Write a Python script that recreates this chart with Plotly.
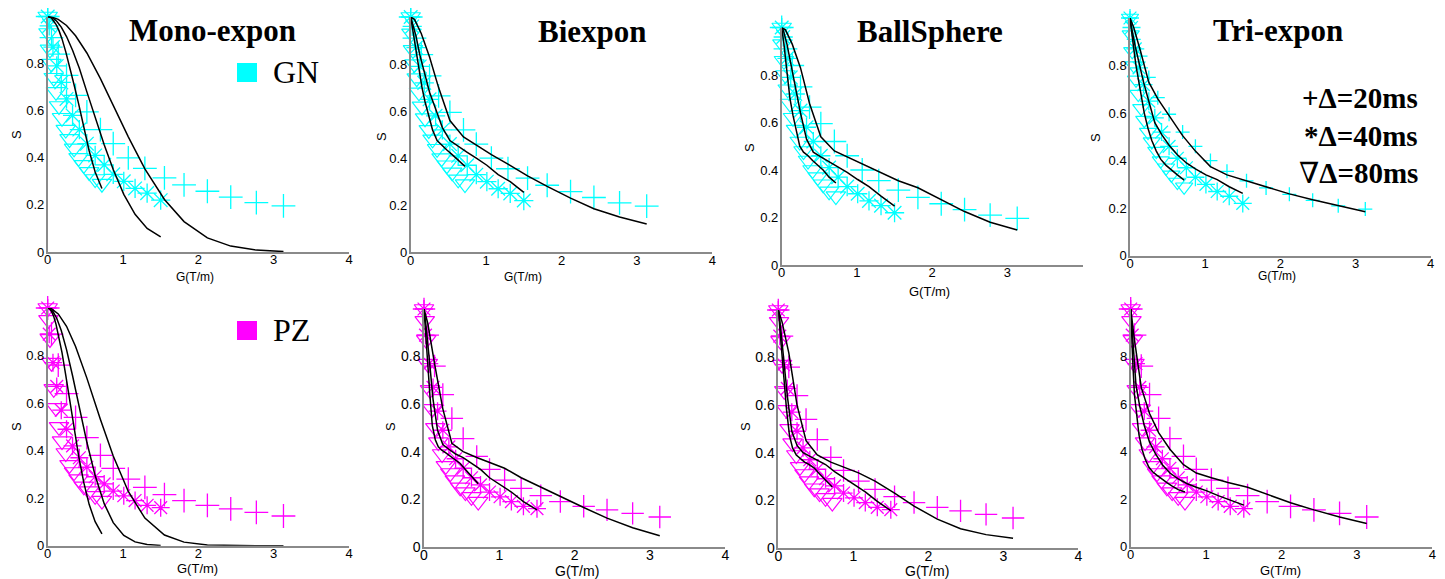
import plotly.graph_objects as go

# page body has an 8px margin, so the figure is drawn 8px in from the corner
OFF = 8
W, H = 1445 - OFF, 579 - OFF

# ---------------- data ----------------
G_20 = [0, 0.05, 0.14, 0.25, 0.37, 0.52, 0.70, 0.87, 1.07, 1.29, 1.55, 1.81, 2.12, 2.43, 2.77, 3.13]
G_40 = [0, 0.02, 0.07, 0.12, 0.18, 0.25, 0.33, 0.42, 0.52, 0.63, 0.75, 0.87, 1.01, 1.16, 1.32, 1.50]
G_80 = [0, 0.01, 0.03, 0.05, 0.08, 0.11, 0.15, 0.19, 0.24, 0.29, 0.35, 0.41, 0.48, 0.55, 0.63, 0.72]

GN_S20 = [1.0, 0.91, 0.84, 0.75, 0.665, 0.595, 0.52, 0.46, 0.40, 0.355, 0.315, 0.285, 0.258, 0.233, 0.21, 0.196]
GN_S40 = [1.0, 0.96, 0.87, 0.79, 0.72, 0.65, 0.58, 0.52, 0.46, 0.41, 0.37, 0.33, 0.30, 0.27, 0.25, 0.22]
GN_S80 = [1.0, 0.93, 0.86, 0.80, 0.74, 0.68, 0.62, 0.57, 0.52, 0.48, 0.44, 0.40, 0.37, 0.34, 0.31, 0.29]

PZ_S20 = [1.0, 0.89, 0.76, 0.64, 0.54, 0.455, 0.38, 0.325, 0.28, 0.245, 0.215, 0.19, 0.17, 0.155, 0.14, 0.125]
PZ_S40 = [1.0, 0.89, 0.77, 0.67, 0.57, 0.49, 0.42, 0.37, 0.33, 0.29, 0.26, 0.23, 0.21, 0.19, 0.17, 0.16]
PZ_S80 = [1.0, 0.95, 0.87, 0.77, 0.66, 0.58, 0.50, 0.44, 0.39, 0.34, 0.31, 0.28, 0.25, 0.23, 0.21, 0.19]

# model fits (evaluated at the same G values)
MONO_GN_F20 = [1.0, 0.998, 0.988, 0.962, 0.918, 0.845, 0.736, 0.623, 0.489, 0.353, 0.223, 0.129, 0.060, 0.025, 0.008, 0.002]
MONO_GN_F40 = [1.0, 0.999, 0.993, 0.98, 0.955, 0.915, 0.857, 0.78, 0.68, 0.57, 0.455, 0.35, 0.245, 0.16, 0.10, 0.064]
MONO_GN_F80 = [1.0, 1.0, 0.997, 0.993, 0.982, 0.967, 0.94, 0.905, 0.85, 0.79, 0.71, 0.63, 0.53, 0.43, 0.34, 0.27]

BI_GN_F20 = [1.0, 0.99, 0.93, 0.83, 0.70, 0.56, 0.49, 0.455, 0.415, 0.375, 0.325, 0.28, 0.23, 0.185, 0.15, 0.12]
BI_GN_F40 = [1.0, 0.98, 0.92, 0.84, 0.76, 0.68, 0.61, 0.53, 0.475, 0.45, 0.425, 0.40, 0.37, 0.33, 0.30, 0.255]
BI_GN_F80 = [1.0, 0.98, 0.94, 0.89, 0.83, 0.77, 0.70, 0.64, 0.58, 0.52, 0.475, 0.455, 0.435, 0.415, 0.39, 0.365]

BS_GN_F20 = [1.0, 0.99, 0.93, 0.83, 0.68, 0.54, 0.48, 0.455, 0.425, 0.39, 0.355, 0.325, 0.275, 0.225, 0.18, 0.147]
BS_GN_F40 = [1.0, 0.99, 0.93, 0.85, 0.74, 0.64, 0.53, 0.475, 0.455, 0.435, 0.41, 0.39, 0.36, 0.33, 0.29, 0.248]
BS_GN_F80 = [1.0, 0.98, 0.93, 0.87, 0.78, 0.70, 0.63, 0.565, 0.50, 0.475, 0.46, 0.44, 0.42, 0.40, 0.37, 0.345]

TRI_GN_F20 = [1.0, 0.96, 0.86, 0.73, 0.66, 0.59, 0.505, 0.44, 0.375, 0.34, 0.315, 0.29, 0.26, 0.235, 0.21, 0.185]
TRI_GN_F40 = [1.0, 0.96, 0.88, 0.81, 0.73, 0.65, 0.56, 0.51, 0.465, 0.425, 0.39, 0.365, 0.34, 0.32, 0.29, 0.262]
TRI_GN_F80 = [1.0, 0.97, 0.92, 0.87, 0.80, 0.74, 0.67, 0.60, 0.535, 0.485, 0.44, 0.405, 0.38, 0.36, 0.34, 0.318]

MONO_PZ_F20 = [1.0, 0.997, 0.975, 0.923, 0.838, 0.705, 0.531, 0.377, 0.228, 0.116, 0.045, 0.015, 0.003, 0.0005, 0.0, 0.0]
MONO_PZ_F40 = [1.0, 0.999, 0.985, 0.957, 0.905, 0.825, 0.715, 0.58, 0.435, 0.295, 0.177, 0.097, 0.043, 0.016, 0.005, 0.001]
MONO_PZ_F80 = [1.0, 0.999, 0.995, 0.986, 0.964, 0.932, 0.878, 0.812, 0.717, 0.615, 0.493, 0.379, 0.264, 0.174, 0.101, 0.050]

BI_PZ_F20 = [1.0, 0.94, 0.77, 0.58, 0.435, 0.40, 0.375, 0.355, 0.33, 0.29, 0.25, 0.21, 0.165, 0.12, 0.08, 0.046]
BI_PZ_F40 = [1.0, 0.95, 0.79, 0.62, 0.49, 0.43, 0.41, 0.39, 0.375, 0.35, 0.325, 0.29, 0.26, 0.23, 0.19, 0.155]
BI_PZ_F80 = [1.0, 0.95, 0.87, 0.77, 0.63, 0.51, 0.45, 0.42, 0.405, 0.395, 0.38, 0.365, 0.35, 0.325, 0.295, 0.265]

BS_PZ_F20 = [1.0, 0.95, 0.82, 0.60, 0.45, 0.39, 0.36, 0.34, 0.315, 0.28, 0.23, 0.175, 0.12, 0.08, 0.055, 0.04]
BS_PZ_F40 = [1.0, 0.96, 0.80, 0.64, 0.49, 0.43, 0.40, 0.385, 0.37, 0.35, 0.32, 0.295, 0.265, 0.235, 0.195, 0.156]
BS_PZ_F80 = [1.0, 0.96, 0.89, 0.81, 0.70, 0.58, 0.47, 0.42, 0.39, 0.375, 0.36, 0.35, 0.335, 0.31, 0.285, 0.255]

TRI_PZ_F20 = [1.0, 0.87, 0.67, 0.56, 0.48, 0.41, 0.345, 0.31, 0.29, 0.27, 0.25, 0.22, 0.185, 0.155, 0.125, 0.098]
TRI_PZ_F40 = [1.0, 0.90, 0.68, 0.59, 0.51, 0.44, 0.39, 0.345, 0.31, 0.285, 0.265, 0.25, 0.235, 0.215, 0.195, 0.175]
TRI_PZ_F80 = [1.0, 0.90, 0.76, 0.64, 0.54, 0.47, 0.41, 0.37, 0.335, 0.315, 0.30, 0.285, 0.27, 0.255, 0.24, 0.23]

MODEL_TITLES = ["Mono-expon", "Biexpon", "BallSphere", "Tri-expon"]
ROW_LABELS = ["GN", "PZ"]
DELTA_SYMBOLS = ["+", "*", "\u2207"]
DELTA_TEXTS = ["\u0394=20ms", "\u0394=40ms", "\u0394=80ms"]
X_TICKS = [0, 1, 2, 3, 4]
Y_TICKS = [0, 0.2, 0.4, 0.6, 0.8]

CYAN = "#00FFFF"
MAGENTA = "#FF00FF"

# ---------------- layout geometry (page pixels) ----------------
# (x at G=0, x at G=4, y at S=1, y at S=0)
PANELS = [
    (47.7, 349.0, 16.5, 252.0),
    (410.7, 712.3, 17.0, 252.3),
    (781.7, 1082.7, 27.5, 265.0),
    (1130.0, 1430.7, 18.0, 255.7),
    (47.7, 349.0, 308.0, 545.7),
    (424.0, 725.3, 309.0, 546.7),
    (778.3, 1078.3, 310.0, 547.7),
    (1130.7, 1432.3, 309.0, 546.7),
]


def px(x):
    return (x - OFF) / W


def py(y):
    return 1 - (y - OFF) / H


fits = [
    (MONO_GN_F20, MONO_GN_F40, MONO_GN_F80),
    (BI_GN_F20, BI_GN_F40, BI_GN_F80),
    (BS_GN_F20, BS_GN_F40, BS_GN_F80),
    (TRI_GN_F20, TRI_GN_F40, TRI_GN_F80),
    (MONO_PZ_F20, MONO_PZ_F40, MONO_PZ_F80),
    (BI_PZ_F20, BI_PZ_F40, BI_PZ_F80),
    (BS_PZ_F20, BS_PZ_F40, BS_PZ_F80),
    (TRI_PZ_F20, TRI_PZ_F40, TRI_PZ_F80),
]
signals = [(GN_S20, GN_S40, GN_S80), (PZ_S20, PZ_S40, PZ_S80)]
grads = (G_20, G_40, G_80)

# marker sizes per panel: (+, *, triangle)
MSIZES = [
    (17, 16, 17), (17, 16, 17), (17, 16, 17), (10, 15, 15),
    (17, 15, 17), (16, 15, 17), (16, 15, 17), (17, 15, 17),
]

fig = go.Figure()
layout = dict(
    width=W, height=H, margin=dict(l=0, r=0, t=0, b=0, autoexpand=False),
    paper_bgcolor="white", plot_bgcolor="white", showlegend=False,
)

tick_font_sizes = [13, 13, 13, 13, 13, 14, 14, 13]

for i, (x0, x4, y1, y0) in enumerate(PANELS):
    k = i + 1
    xa = "xaxis" if k == 1 else f"xaxis{k}"
    ya = "yaxis" if k == 1 else f"yaxis{k}"
    xr = "x" if k == 1 else f"x{k}"
    yr = "y" if k == 1 else f"y{k}"
    xt = X_TICKS if i != 2 else X_TICKS[:4]
    layout[xa] = dict(
        domain=[px(x0), px(x4)], range=[0, 4], anchor=yr, automargin=False,
        tickvals=xt, ticktext=[str(v) for v in xt], ticklabelstandoff=-5,
        showgrid=False, zeroline=False, showline=True,
        linecolor="#8a8a8a", linewidth=1.5, ticks="",
        tickfont=dict(family="Liberation Sans, Arial", size=tick_font_sizes[i], color="black"),
    )
    if i == 7:
        ytext = ["0", "2", "4", "6", "8"]
    else:
        ytext = ["0", "0.2", "0.4", "0.6", "0.8"]
    layout[ya] = dict(
        domain=[py(y0), py(y1)], range=[0, 1], anchor=xr, automargin=False,
        tickvals=Y_TICKS, ticktext=ytext, ticklabelstandoff=-1,
        showgrid=False, zeroline=False, showline=True,
        linecolor="#8a8a8a", linewidth=1.5, ticks="",
        tickfont=dict(family="Liberation Sans, Arial", size=tick_font_sizes[i], color="black"),
    )

    row = 0 if i < 4 else 1
    col = CYAN if row == 0 else MAGENTA
    s20, s40, s80 = signals[row]
    ms = MSIZES[i]
    # data markers
    fig.add_trace(go.Scatter(
        x=G_20, y=s20, mode="markers", xaxis=xr, yaxis=yr, cliponaxis=False,
        marker=dict(symbol="cross-thin", size=ms[0], color=col, line=dict(color=col, width=1.3)),
    ))
    fig.add_trace(go.Scatter(
        x=G_40, y=s40, mode="markers", xaxis=xr, yaxis=yr, cliponaxis=False,
        marker=dict(symbol="asterisk", size=ms[1], color=col, line=dict(color=col, width=1.3)),
    ))
    fig.add_trace(go.Scatter(
        x=G_80, y=s80, mode="markers", xaxis=xr, yaxis=yr, cliponaxis=False,
        marker=dict(symbol="triangle-down-open", size=ms[2], color=col, line=dict(color=col, width=1.2)),
    ))
    # fit lines
    for g, f in zip(grads, fits[i]):
        fig.add_trace(go.Scatter(
            x=g, y=f, mode="lines", xaxis=xr, yaxis=yr, cliponaxis=False,
            line=dict(color="black", width=1.5),
        ))

annotations = []
# model titles
title_pos = [(212, 31), (592, 32), (930, 32), (1278, 31)]
for t, (x, y) in zip(MODEL_TITLES, title_pos):
    annotations.append(dict(
        text=f"<b>{t}</b>", x=px(x), y=py(y), xref="paper", yref="paper",
        xanchor="center", yanchor="middle", showarrow=False,
        font=dict(family="Liberation Serif, Times New Roman", size=31, color="black"),
    ))

# row labels
row_pos = [(271, 72), (271, 330)]
for t, (x, y) in zip(ROW_LABELS, row_pos):
    annotations.append(dict(
        text=t, x=px(x), y=py(y), xref="paper", yref="paper",
        xanchor="left", yanchor="middle", showarrow=False,
        font=dict(family="Liberation Serif, Times New Roman", size=32, color="black"),
    ))

# delta legend
delta_y = [98, 136, 173]
for sym, t, y in zip(DELTA_SYMBOLS, DELTA_TEXTS, delta_y):
    if sym == "\u2207":
        txt = f"{sym}<b>{t}</b>"
    else:
        txt = f"<b>{sym}{t}</b>"
    annotations.append(dict(
        text=txt, x=px(1420), y=py(y), xref="paper", yref="paper",
        xanchor="right", yanchor="middle", showarrow=False,
        font=dict(family="Liberation Serif, DejaVu Serif", size=29, color="black"),
    ))

# axis titles
s_pos = [(16, 135), (381, 137), (750, 148), (1096, 138), (16, 427), (390, 427), (745, 427)]
for (x, y) in s_pos:
    annotations.append(dict(
        text="S", x=px(x), y=py(y), xref="paper", yref="paper",
        xanchor="center", yanchor="middle", showarrow=False, textangle=-90,
        font=dict(family="Liberation Sans, Arial", size=13, color="black"),
    ))
g_pos = [(195, 277), (523, 277), (929, 291), (1277, 276), (197, 568), (577, 571), (927, 571), (1280, 570)]
g_sizes = [12, 12, 13, 12, 13, 14, 14, 13]
for (x, y), sz in zip(g_pos, g_sizes):
    annotations.append(dict(
        text="G(T/m)", x=px(x), y=py(y), xref="paper", yref="paper",
        xanchor="center", yanchor="middle", showarrow=False,
        font=dict(family="Liberation Sans, Arial", size=sz, color="black"),
    ))

shapes = [
    dict(type="rect", xref="paper", yref="paper", x0=px(237), x1=px(257), y0=py(82), y1=py(63),
         fillcolor=CYAN, line=dict(width=0)),
    dict(type="rect", xref="paper", yref="paper", x0=px(237), x1=px(257), y0=py(340), y1=py(321),
         fillcolor=MAGENTA, line=dict(width=0)),
]

layout["annotations"] = annotations
layout["shapes"] = shapes
fig.update_layout(**layout)
fig.write_html("out.html")
